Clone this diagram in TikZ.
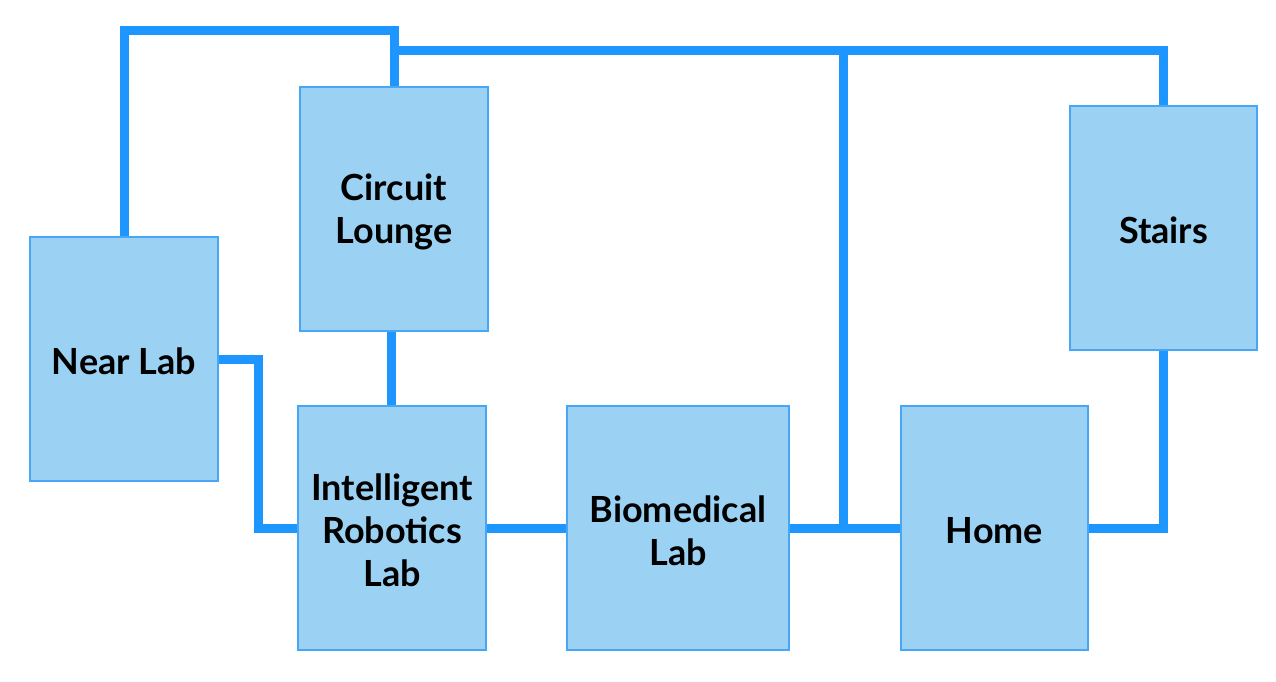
\documentclass[tikz,border=0pt]{standalone}
\usepackage{fontspec}
\usetikzlibrary{backgrounds}
\setmainfont{Lato}[UprightFont=* Bold]
\definecolor{wire}{HTML}{1E96FF}
\definecolor{boxfill}{HTML}{9BD2F3}
\definecolor{boxline}{HTML}{47A7F5}
\begin{document}
\begin{tikzpicture}[x=1pt,y=-1pt,
  room/.style={draw=boxline,line width=1.5pt,fill=boxfill,inner sep=0pt,
    minimum width=188pt,minimum height=244pt},
  roomtext/.style={align=center,inner sep=0pt,yshift=-2.5pt,
    font=\fontsize{36}{43}\selectfont},
  wire/.style={draw=wire,line width=9pt,line cap=rect}]
\useasboundingbox (0,0) rectangle (1276,681);
% corner coordinates
\coordinate (c1) at (124,30.5);
\coordinate (c2) at (394,50);
\coordinate (c3) at (843.5,50);
\coordinate (c4) at (843.5,528);
\coordinate (c5) at (258,528);
% rooms
\node[room,label={[roomtext]center:{Near Lab}}] (near) at (124,359) {};
\node[room,label={[roomtext]center:{Circuit\\Lounge}}] (circuit) at (394,209) {};
\node[room,label={[roomtext]center:{Intelligent\\Robotics\\Lab}}] (irl) at (392,528) {};
\node[room,minimum width=222pt,label={[roomtext]center:{Biomedical\\Lab}}] (bio) at (678,528) {};
\node[room,minimum width=187pt,label={[roomtext]center:{Home}}] (home) at (994.5,528) {};
\node[room,minimum width=187pt,label={[roomtext]center:{Stairs}}] (stairs) at (1163.5,228) {};
% connectors behind the rooms
\begin{scope}[on background layer]
\fill[white] (0,0) rectangle (1276,681);
\draw[wire] (near.north) -- (c1) -| (circuit.north);
\draw[wire] (c2) -| (stairs.north);
\draw[wire] (c3) -- (c4);
\draw[wire] (near.east) -| (c5) -- (irl.west);
\draw[wire] ([xshift=-2.5pt]circuit.south) -- ([xshift=-2.5pt]circuit.south |- irl.north);
\draw[wire] (irl.east) -- (bio.west);
\draw[wire] (bio.east) -- (home.west);
\draw[wire] (home.east) -| (stairs.south);
\end{scope}
\end{tikzpicture}
\end{document}
